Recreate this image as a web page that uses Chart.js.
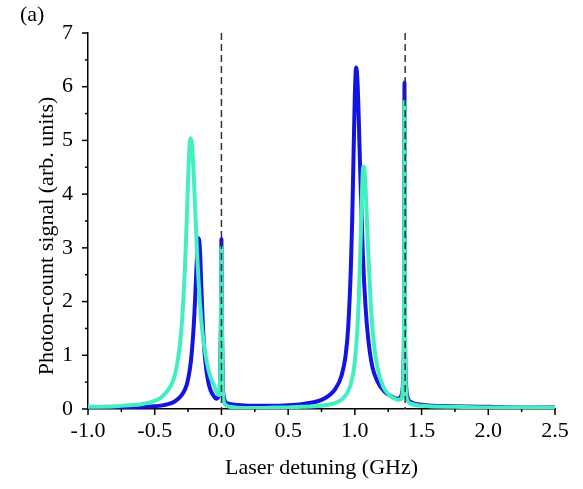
<!DOCTYPE html>
<html>
<head>
<meta charset="utf-8">
<script src="https://cdn.jsdelivr.net/npm/chart.js@4.4.1/dist/chart.umd.min.js"></script>
<style>
  body { margin: 0; background: #fff; }
  #wrap { width: 583px; height: 489px; position: relative; }
</style>
</head>
<body>
<div id="wrap"><canvas id="myChart"></canvas></div>
<script>
// laser detuning (GHz) / photon-count signal
var blueX = [-1.0, -0.8, -0.6, -0.5, -0.4, -0.35, -0.3, -0.27, -0.25, -0.23, -0.21, -0.2, -0.19, -0.18, -0.17, -0.16, -0.15, -0.14, -0.13, -0.12,
  -0.1, -0.08, -0.06, -0.04, -0.02, -0.01, -0.004, 0, 0.004, 0.01, 0.02, 0.04, 0.1, 0.2, 0.3, 0.4, 0.5, 0.6, 0.7, 0.75,
  0.8, 0.85, 0.9, 0.93, 0.95, 0.97, 0.98, 0.99, 1.0, 1.01, 1.02, 1.03, 1.04, 1.06, 1.08, 1.1, 1.13, 1.17, 1.22, 1.27,
  1.32, 1.35, 1.36, 1.365, 1.369, 1.372, 1.375, 1.379, 1.385, 1.395, 1.42, 1.5, 1.75, 2.0, 2.25, 2.5];
var blueY = [0.03, 0.03, 0.04, 0.05, 0.09, 0.14, 0.25, 0.38, 0.55, 0.86, 1.45, 1.9, 2.46, 2.98, 3.18, 2.9, 2.23, 1.62, 1.17, 0.87,
  0.52, 0.34, 0.25, 0.19, 0.25, 0.56, 1.6, 3.16, 1.55, 0.5, 0.2, 0.11, 0.08, 0.06, 0.06, 0.06, 0.07, 0.09, 0.13, 0.17,
  0.24, 0.36, 0.62, 0.98, 1.52, 2.62, 3.52, 4.7, 5.86, 6.36, 6.08, 5.34, 4.44, 2.88, 1.9, 1.31, 0.8, 0.51, 0.33, 0.24,
  0.19, 0.26, 0.45, 0.8, 2.0, 6.08, 2.0, 0.8, 0.4, 0.22, 0.13, 0.08, 0.05, 0.04, 0.03, 0.03];

var cyanX = [-1.0, -0.8, -0.7, -0.6, -0.5, -0.45, -0.4, -0.36, -0.33, -0.31, -0.29, -0.27, -0.26, -0.25, -0.24, -0.23, -0.22, -0.21, -0.2, -0.19,
  -0.18, -0.16, -0.14, -0.12, -0.1, -0.08, -0.06, -0.04, -0.02, -0.01, -0.004, 0, 0.004, 0.01, 0.02, 0.05, 0.1, 0.2, 0.3, 0.4,
  0.5, 0.6, 0.7, 0.8, 0.85, 0.9, 0.95, 0.98, 1.0, 1.02, 1.03, 1.04, 1.05, 1.06, 1.065, 1.07, 1.08, 1.09, 1.1, 1.12,
  1.14, 1.17, 1.21, 1.25, 1.3, 1.33, 1.35, 1.36, 1.365, 1.369, 1.372, 1.375, 1.379, 1.385, 1.395, 1.42, 1.5, 1.75, 2.0, 2.25, 2.5];
var cyanY = [0.04, 0.05, 0.07, 0.09, 0.15, 0.22, 0.35, 0.54, 0.86, 1.22, 1.83, 2.84, 3.52, 4.24, 4.84, 5.04, 4.92, 4.49, 3.91, 3.32,
  2.78, 1.94, 1.38, 1.02, 0.76, 0.58, 0.47, 0.34, 0.26, 0.5, 1.5, 3.0, 1.45, 0.4, 0.12, 0.05, 0.03, 0.02, 0.02, 0.03,
  0.03, 0.04, 0.05, 0.08, 0.11, 0.17, 0.33, 0.56, 0.89, 1.53, 2.07, 2.83, 3.73, 4.44, 4.51, 4.5, 4.13, 3.55, 2.93, 1.92,
  1.28, 0.76, 0.43, 0.28, 0.19, 0.17, 0.2, 0.38, 0.75, 1.9, 5.72, 1.9, 0.7, 0.3, 0.16, 0.1, 0.06, 0.04, 0.03, 0.03, 0.02];

// dashed reference lines (GHz)
var markerLines = [0, 1.377];

var xMin = -1.0, xMax = 2.5, xStep = 0.5;
var yMin = 0, yMax = 7, yStep = 1;

var serif = "'Liberation Serif', 'Times New Roman', serif";

function toPoints(xs, ys) {
  return xs.map(function (x, i) { return { x: x, y: ys[i] }; });
}

// minor/major tick marks, dashed lines and panel label
const extras = {
  id: "extras",
  afterDatasetsDraw(chart) {
    const { ctx, chartArea, scales: { x } } = chart;
    ctx.save();
    ctx.strokeStyle = "#333";
    ctx.lineWidth = 1.5;
    ctx.setLineDash([7, 4]);
    markerLines.forEach((v) => {
      const px = x.getPixelForValue(v);
      ctx.beginPath();
      ctx.moveTo(px, chartArea.top);
      ctx.lineTo(px, chartArea.bottom);
      ctx.stroke();
    });
    ctx.restore();
  },
  afterDraw(chart) {
    const { ctx, chartArea, scales: { x, y } } = chart;
    ctx.save();
    ctx.strokeStyle = "#000";
    ctx.lineWidth = 1.5;
    for (let i = 0; xMin + i * xStep / 2 <= xMax + 1e-9; i++) {
      const px = x.getPixelForValue(xMin + i * xStep / 2);
      const len = i % 2 === 0 ? 6 : 3;
      ctx.beginPath();
      ctx.moveTo(px, chartArea.bottom);
      ctx.lineTo(px, chartArea.bottom + len);
      ctx.stroke();
    }
    for (let i = 0; yMin + i * yStep / 2 <= yMax + 1e-9; i++) {
      const py = y.getPixelForValue(yMin + i * yStep / 2);
      const len = i % 2 === 0 ? 6 : 3;
      ctx.beginPath();
      ctx.moveTo(chartArea.left, py);
      ctx.lineTo(chartArea.left - len, py);
      ctx.stroke();
    }

    ctx.fillStyle = "#000";
    ctx.font = "22px " + serif;
    ctx.textBaseline = "middle";
    ctx.textAlign = "left";
    ctx.fillText("(a)", 20, 15);

    ctx.translate(47, 236);
    ctx.rotate(-Math.PI / 2);
    ctx.textAlign = "center";
    ctx.fillText("Photon-count signal (arb. units)", 0, 0);
    ctx.restore();
  },
};

const ctx = document.getElementById("myChart");

const config = {
  type: "line",
  data: {
    datasets: [
      {
        label: "cyan",
        data: toPoints(cyanX, cyanY),
        borderColor: "#42EFBE",
        borderWidth: 4,
        order: 1,
      },
      {
        label: "blue",
        data: toPoints(blueX, blueY),
        borderColor: "#1414E2",
        borderWidth: 4,
        order: 2,
      },
    ],
  },
  options: {
    responsive: true,
    maintainAspectRatio: false,
    animation: false,
    layout: { padding: { top: 33, right: 28, left: 0, bottom: 0 } },
    elements: {
      point: { radius: 0 },
      line: {
        cubicInterpolationMode: "monotone",
        borderJoinStyle: "round",
        borderCapStyle: "round",
        fill: false,
      },
    },
    plugins: {
      legend: { display: false },
      tooltip: { enabled: false },
    },
    scales: {
      x: {
        type: "linear",
        min: xMin,
        max: xMax,
        afterFit(scale) { scale.height = 80; },
        grid: { display: false, drawTicks: false },
        border: { display: true, color: "#000", width: 1.5 },
        ticks: {
          stepSize: xStep,
          padding: 9,
          color: "#000",
          font: { family: serif, size: 22 },
          maxRotation: 0,
          callback: (v) => v.toFixed(1),
        },
        title: {
          display: true,
          text: "Laser detuning (GHz)",
          color: "#000",
          font: { family: serif, size: 22 },
          padding: { top: 0, bottom: 8 },
        },
      },
      y: {
        min: yMin,
        max: yMax,
        afterFit(scale) { scale.width = 88; },
        grid: { display: false, drawTicks: false },
        border: { display: true, color: "#000", width: 1.5 },
        ticks: {
          stepSize: yStep,
          padding: 15,
          color: "#000",
          font: { family: serif, size: 22 },
        },
      },
    },
  },
  plugins: [extras],
};

var chart = new Chart(ctx, config);
</script>
</body>
</html>
